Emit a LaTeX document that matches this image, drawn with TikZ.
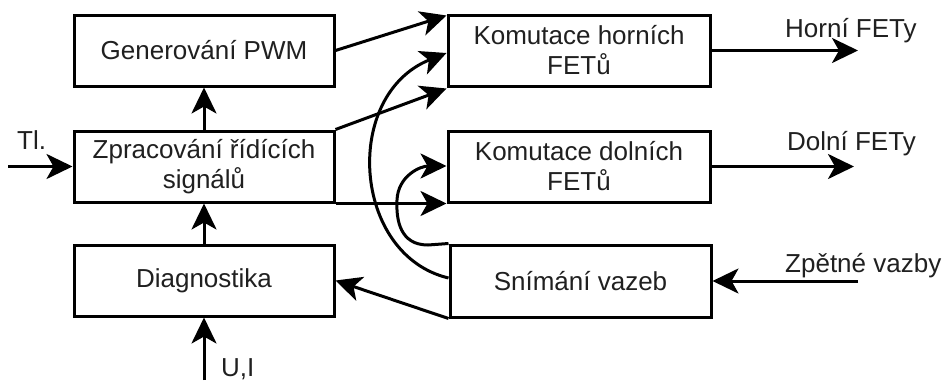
\documentclass[tikz,border=0pt]{standalone}
\usepackage{fontspec}
\setmainfont{Liberation Sans}
\usetikzlibrary{arrows.meta,calc}
\definecolor{txt}{HTML}{202020}
\begin{document}
\begin{tikzpicture}[x=1pt,y=-1pt,
 box/.style={draw,line width=3pt,minimum width=260pt,minimum height=71pt,inner sep=0pt,align=center,font=\fontsize{26}{30}\selectfont,text=txt},
 lbl/.style={anchor=base west,inner sep=0pt,font=\fontsize{26}{30}\selectfont,text=txt},
 con/.style={line width=3pt,-{Stealth[length=26pt,width=25pt,inset=7pt]}},
]
\useasboundingbox[fill=white] (0,0) rectangle (947,380);

\node[box] (gen) at (204,50.5) {Generování PWM};
\node[box] (proc) at (204,166.5) {Zpracování řídících\\signálů};
\node[box] (diag) at (204,280.5) {Diagnostika};
\node[box,minimum width=262pt] (kh) at (579,50.5) {Komutace horních\\FETů};
\node[box,minimum width=262pt] (kd) at (579,166.5) {Komutace dolních\\FETů};
\node[box,minimum width=261pt,minimum height=72pt] (snim) at (580.5,281) {Snímání vazeb};

\coordinate (tlin) at (8,166.5);
\coordinate (uiin) at (204,380);
\coordinate (hout) at (858,50.5);
\coordinate (dout) at (854,166.5);
\coordinate (zin) at (858,281);

\node[lbl] (tl) at (17,149) {Tl.};
\node[lbl] (ui) at (221,376) {U,I};
\node[lbl] (hf) at (785,37) {Horní FETy};
\node[lbl] (df) at (787,150) {Dolní FETy};
\node[lbl] (zv) at (785,272) {Zpětné vazby};

\draw[con] (tlin) -- (proc.west);
\draw[con] (proc.north) -- (gen.south);
\draw[con] (diag.north) -- (proc.south);
\draw[con] (uiin) -- (diag.south);
\draw[con] (gen.east) -- ($(kh.north west)+(0,2)$);
\draw[con] (proc.north east) -- ($(kh.south west)+(0,1)$);
\draw[con] (proc.south east) -- (kd.south west);
\draw[con] (kh.east) -- (hout);
\draw[con] (kd.east) -- (dout);
\draw[con] (zin) -- (snim.east);
\draw[con] (snim.south west) -- (diag.east);
\draw[con] ($(snim.west)+(0,-3)$) .. controls (352,255) and (342,95) .. ($(kh.west)+(0,2.5)$);
\draw[con] (snim.north west) -- (428,245) .. controls (400,245) and (396,220) .. (397,200) .. controls (398,176) and (420,166) .. ($(kd.west)+(0,-0.5)$);
\end{tikzpicture}
\end{document}
